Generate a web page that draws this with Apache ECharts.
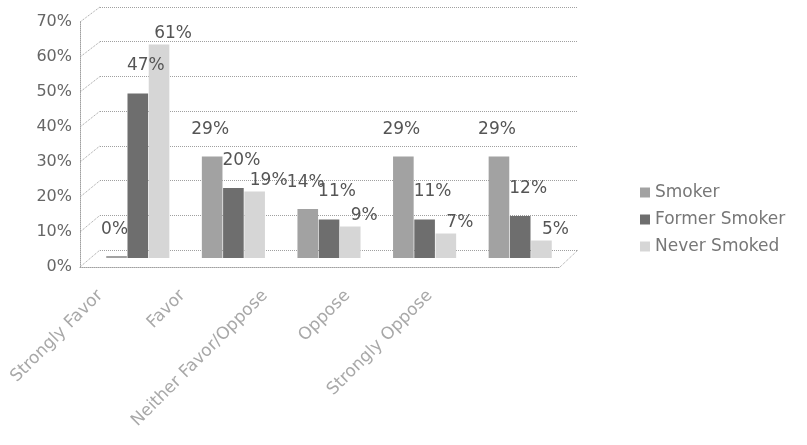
<!DOCTYPE html>
<html>
<head>
<meta charset="utf-8">
<script src="https://cdn.jsdelivr.net/npm/echarts@6/dist/echarts.min.js"></script>
<style>
  html, body { margin: 0; padding: 0; background: #ffffff; }
  #chart { width: 807px; height: 445px; }
</style>
</head>
<body>
<div id="chart"></div>
<script>
// Survey answers by smoking status (percent of each group)
const categories = ['Strongly Favor', 'Favor', 'Neither Favor/Oppose', 'Oppose', 'Strongly Oppose'];
const seriesNames = ['Smoker', 'Former Smoker', 'Never Smoked'];
const smoker = [0, 29, 14, 29, 29];
const formerSmoker = [47, 20, 11, 11, 12];
const neverSmoked = [61, 19, 9, 7, 5];
const yTicks = [0, 10, 20, 30, 40, 50, 60, 70];

const seriesValues = [smoker, formerSmoker, neverSmoked];
const colors = ['#a2a2a2', '#6e6e6e', '#d6d6d6'];
const labelOffsets = [[-2, -14], [8, -15], [14, 2]];

const chart = echarts.init(document.getElementById('chart'), null, { renderer: 'canvas' });

const dotted = { color: '#a0a0a0', type: [1, 1], width: 1 };

const option = {
  backgroundColor: '#ffffff',
  animation: false,
  grid: [
    // back wall (gridlines)
    { left: 100, top: 7, width: 478, height: 243 },
    // bars, mid depth
    { left: 90, top: 13, width: 478, height: 245 },
    // front axis (value labels, floor edge)
    { left: 80, top: 22, width: 480, height: 245 },
    // category labels
    { left: 59, top: 22, width: 412, height: 245 }
  ],
  xAxis: [
    { gridIndex: 0, type: 'category', data: categories, axisLine: { show: false }, axisTick: { show: false }, axisLabel: { show: false } },
    { gridIndex: 1, type: 'category', data: categories, axisLine: { show: false }, axisTick: { show: false }, axisLabel: { show: false } },
    { gridIndex: 2, type: 'category', data: categories, axisLine: { show: true, lineStyle: dotted }, axisTick: { show: false }, axisLabel: { show: false } },
    {
      gridIndex: 3, type: 'category', data: categories,
      axisLine: { show: false }, axisTick: { show: false },
      axisLabel: {
        show: true, rotate: 45, margin: 26, interval: 0,
        color: '#a8a8a8', fontSize: 17, fontFamily: 'DejaVu Sans'
      }
    }
  ],
  yAxis: [
    {
      gridIndex: 0, type: 'value', min: 0, max: 70, interval: 10,
      axisLine: { show: false }, axisTick: { show: false }, axisLabel: { show: false },
      splitLine: { show: true, lineStyle: dotted }
    },
    {
      gridIndex: 1, type: 'value', min: 0, max: 70, interval: 10,
      axisLine: { show: false }, axisTick: { show: false }, axisLabel: { show: false },
      splitLine: { show: false }
    },
    {
      gridIndex: 2, type: 'value', min: 0, max: 70, interval: 10,
      axisLine: { show: true, lineStyle: dotted }, axisTick: { show: false },
      splitLine: { show: false },
      axisLabel: {
        show: true, margin: 8, color: '#666666', fontSize: 16,
        fontFamily: 'DejaVu Sans', formatter: '{value}%'
      }
    },
    {
      gridIndex: 3, type: 'value', min: 0, max: 70, interval: 10, show: false
    }
  ],
  legend: {
    orient: 'vertical',
    left: 635, top: 179,
    itemWidth: 10, itemHeight: 10, itemGap: 10,
    icon: 'rect',
    textStyle: { color: '#777777', fontSize: 17, fontFamily: 'DejaVu Sans' },
    data: seriesNames
  },
  series: seriesNames.map((name, i) => ({
    name: name,
    type: 'bar',
    xAxisIndex: 1,
    yAxisIndex: 1,
    data: seriesValues[i],
    barGap: '3%',
    barCategoryGap: '34%',
    barMinHeight: 2,
    itemStyle: { color: colors[i] },
    label: {
      show: true,
      position: 'top',
      distance: 4,
      offset: labelOffsets[i],
      formatter: '{c}%',
      color: '#555555',
      fontSize: 17,
      fontFamily: 'DejaVu Sans'
    }
  }))
};

chart.setOption(option);

// Depth connectors from the front value axis to the back wall gridlines
const frontRect = chart.getModel().getComponent('grid', 2).coordinateSystem.getRect();
const backRect = chart.getModel().getComponent('grid', 0).coordinateSystem.getRect();
const connectors = yTicks.map(v => {
  const front = chart.convertToPixel({ gridIndex: 2 }, [0, v]);
  const back = chart.convertToPixel({ gridIndex: 0 }, [0, v]);
  return {
    type: 'line',
    shape: { x1: frontRect.x, y1: front[1], x2: backRect.x, y2: back[1] },
    style: { stroke: '#a0a0a0', lineWidth: 1, lineDash: [1, 1] },
    silent: true
  };
});
// right floor edge
connectors.push({
  type: 'line',
  shape: {
    x1: frontRect.x + frontRect.width, y1: frontRect.y + frontRect.height,
    x2: backRect.x + backRect.width, y2: backRect.y + backRect.height
  },
  style: { stroke: '#a0a0a0', lineWidth: 1, lineDash: [1, 1] },
  silent: true
});
chart.setOption({ graphic: connectors });
</script>
</body>
</html>
